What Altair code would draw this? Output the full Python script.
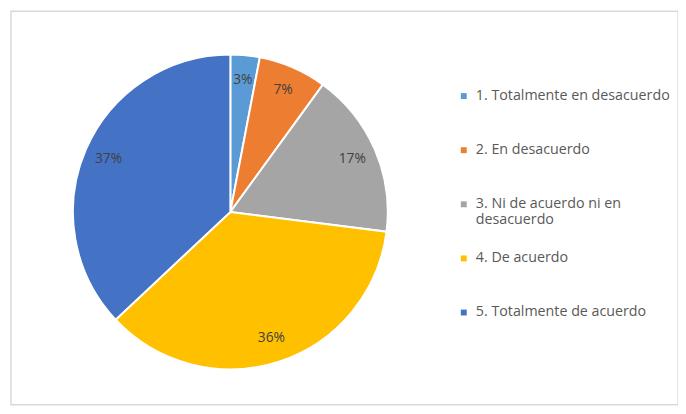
import altair as alt
import pandas as pd

categories = [
    "1. Totalmente en desacuerdo",
    "2. En desacuerdo",
    "3. Ni de acuerdo ni en desacuerdo",
    "4. De acuerdo",
    "5. Totalmente de acuerdo",
]
values = [3, 7, 17, 36, 37]
colors = ["#5B9BD5", "#ED7D31", "#A5A5A5", "#FFC000", "#4472C4"]

df = pd.DataFrame({
    "cat": categories,
    "val": values,
    "order": list(range(len(values))),
    "label": [f"{v}%" for v in values],
})

label_expr = (
    "datum.label == '3. Ni de acuerdo ni en desacuerdo' ? "
    "['3. Ni de acuerdo ni en', 'desacuerdo'] : datum.label"
)

base = alt.Chart(df).encode(
    theta=alt.Theta("val:Q", stack=True),
    order=alt.Order("order:Q"),
)

arc = base.mark_arc(outerRadius=160, stroke="white", strokeWidth=2).encode(
    x=alt.value(223),
    y=alt.value(204),
    color=alt.Color(
        "cat:N",
        scale=alt.Scale(domain=categories, range=colors),
        legend=alt.Legend(
            title=None,
            orient="none",
            legendX=453,
            legendY=79,
            symbolType="square",
            symbolSize=36,
            symbolStrokeWidth=0,
            labelFont="Open Sans",
            labelFontSize=14.5,
            labelColor="#595959",
            labelOffset=5,
            rowPadding=23,
            gridAlign="all",
            labelLimit=300,
            labelExpr=label_expr,
        ),
    ),
)

text = base.mark_text(radius=135, font="Open Sans", fontSize=14, color="#404040").encode(
    x=alt.value(223),
    y=alt.value(204),
    text="label:N",
)

chart = (
    alt.layer(arc, text)
    .properties(
        width=678,
        height=400,
        autosize=alt.AutoSizeParams(type="none"),
        padding={"left": 3, "top": 0, "right": 0, "bottom": 0},
    )
    .configure_view(stroke="#d9d9d9", strokeWidth=1.5)
)

chart.save("out.html", embed_options={"renderer": "svg", "actions": False})
